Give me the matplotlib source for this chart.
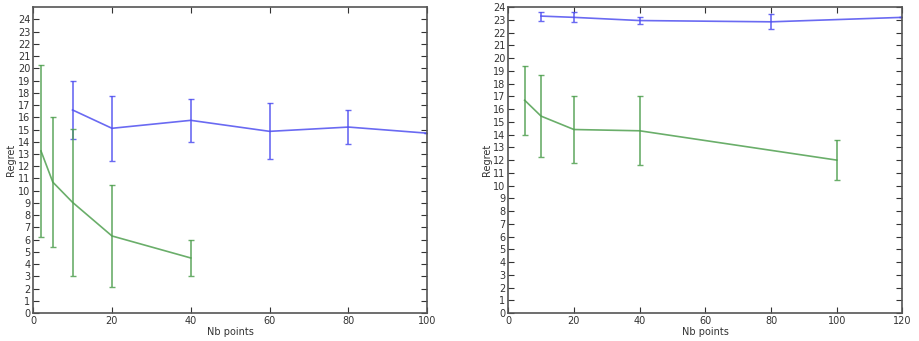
import numpy as np
import matplotlib.pyplot as plt

# panneau gauche
x_bleu_g = [10, 20, 40, 60, 80, 100]
y_bleu_g = [16.6, 15.1, 15.75, 14.85, 15.2, 14.7]
e_bleu_g = [2.35, 2.65, 1.75, 2.3, 1.4, 0.0]
x_vert_g = [2, 5, 10, 20, 40]
y_vert_g = [13.25, 10.7, 9.05, 6.3, 4.5]
e_vert_g = [7.05, 5.3, 6.0, 4.15, 1.5]

# panneau droit
x_bleu_d = [10, 20, 40, 80, 120]
y_bleu_d = [23.3, 23.2, 22.95, 22.85, 23.2]
e_bleu_d = [0.35, 0.4, 0.3, 0.6, 0.0]
x_vert_d = [5, 10, 20, 40, 100]
y_vert_d = [16.7, 15.45, 14.4, 14.3, 12.0]
e_vert_d = [2.7, 3.2, 2.6, 2.7, 1.6]

fig = plt.figure(figsize=(9.19, 3.41), dpi=100)
ax1 = fig.add_axes([0.036, 0.082, 0.429, 0.897])
ax2 = fig.add_axes([0.553, 0.082, 0.429, 0.897])

def panneau(ax, xb, yb, eb, xv, yv, ev, xmax, ymax):
    ax.errorbar(xb, yb, yerr=eb, color='#5050f0', lw=1.2, capsize=2.5, elinewidth=1.2, alpha=0.85)
    ax.errorbar(xv, yv, yerr=ev, color='#50a050', lw=1.2, capsize=2.5, elinewidth=1.2, alpha=0.85)
    ax.set_xlim(0, xmax)
    ax.set_ylim(0, ymax)
    ax.set_yticks(np.arange(0, 25, 1))
    ax.set_xticks(np.arange(0, xmax + 1, 20))
    ax.tick_params(direction='in', top=True, right=True, labelsize=7, colors='#333333', length=4, pad=2)
    for s in ax.spines.values():
        s.set_color('#555555')
        s.set_linewidth(1.2)
    ax.set_xlabel('Nb points', fontsize=7, color='#333333', labelpad=1)
    ax.set_ylabel('Regret', fontsize=7, color='#333333', labelpad=1)

panneau(ax1, x_bleu_g, y_bleu_g, e_bleu_g, x_vert_g, y_vert_g, e_vert_g, 100, 25)
panneau(ax2, x_bleu_d, y_bleu_d, e_bleu_d, x_vert_d, y_vert_d, e_vert_d, 120, 24)

fig.savefig('out.png', dpi=100)
